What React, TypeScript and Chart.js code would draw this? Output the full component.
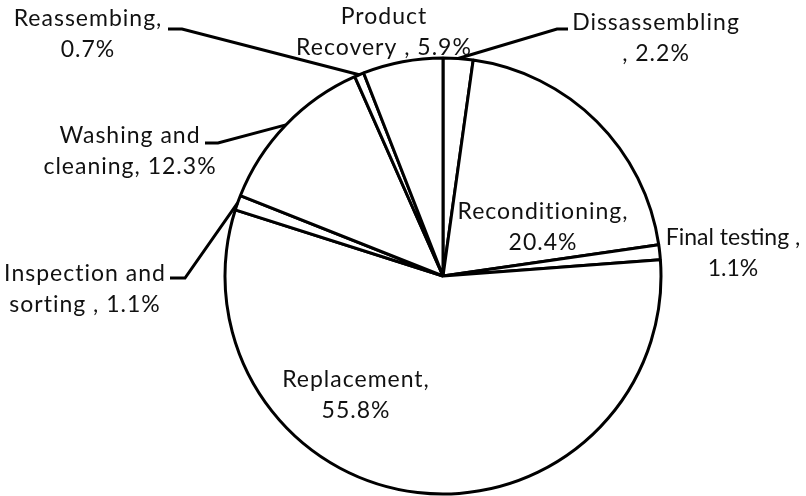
import React, { useEffect, useRef } from "react";
import { Chart, registerables } from "chart.js";

Chart.register(...registerables);

const categories = [
  "Dissassembling",
  "Reconditioning",
  "Final testing",
  "Replacement",
  "Inspection and sorting",
  "Washing and cleaning",
  "Reassembing",
  "Product Recovery",
];
const values = [2.2, 20.4, 1.1, 55.8, 1.1, 12.3, 0.7, 5.9];
// label text templates ({v} = value)
const labelLines = [
  ["Dissassembling", ", {v}%"],
  ["Reconditioning,", "{v}%"],
  ["Final testing ,", "{v}%"],
  ["Replacement,", "{v}%"],
  ["Inspection and", "sorting , {v}%"],
  ["Washing and", "cleaning, {v}%"],
  ["Reassembing,", "{v}%"],
  ["Product", "Recovery , {v}%"],
];

// label layout relative to pie centre: [dx of text centre, dy of first baseline]
const labelPos = [
  [213, -246],
  [100, -57],
  [290, -31],
  [-87, 111],
  [-358, 5],
  [-313, -133],
  [-355, -250],
  [-59, -252],
];
const labelSpacing = [1, 1, 0, 1, 1, 1, 1, 1];
// leader stub: [dx attach (near label), dy, stub length (signed)] or null
const leaders: (number[] | null)[] = [
  [125, -247, -11],
  null,
  null,
  null,
  [-273, 2, 15],
  [-238, -133, 13],
  [-275, -247, 14],
  null,
];

const FONT = "23px Lato";
const LINE_H = 31;

const labelPlugin = {
  id: "pieLabels",
  afterDatasetsDraw(chart: any) {
    const ctx = chart.ctx;
    const meta = chart.getDatasetMeta(0);
    ctx.save();
    meta.data.forEach((arc: any, i: number) => {
      const p = arc.getProps(["x", "y", "startAngle", "endAngle", "outerRadius"], true);
      const mid = (p.startAngle + p.endAngle) / 2;
      const ex = p.x + p.outerRadius * Math.cos(mid);
      const ey = p.y + p.outerRadius * Math.sin(mid);
      const L = leaders[i];
      if (L) {
        const ax = p.x + L[0];
        const ay = p.y + L[1];
        ctx.beginPath();
        ctx.moveTo(ax, ay);
        ctx.lineTo(ax + L[2], ay);
        ctx.lineTo(ex, ey);
        ctx.strokeStyle = "#000";
        ctx.lineWidth = 3;
        ctx.lineJoin = "miter";
        ctx.stroke();
      }
      const [dx, dy] = labelPos[i];
      ctx.font = FONT;
      (ctx as any).letterSpacing = labelSpacing[i] + "px";
      ctx.fillStyle = "#111";
      ctx.textAlign = "center";
      ctx.textBaseline = "alphabetic";
      labelLines[i].forEach((ln, k) => {
        const t = ln.replace("{v}", values[i].toFixed(1));
        ctx.fillText(t, p.x + dx, p.y + dy + k * LINE_H);
      });
    });
    ctx.restore();
  },
};

export default function App() {
  const ref = useRef<HTMLCanvasElement>(null);
  useEffect(() => {
    const chart = new Chart(ref.current!, {
      type: "pie",
      data: {
        labels: categories,
        datasets: [
          {
            data: values,
            backgroundColor: "#ffffff",
            borderColor: "#000000",
            borderWidth: 3,
            radius: 218,
          } as any,
        ],
      },
      options: {
        responsive: false,
        animation: false,
        devicePixelRatio: 1,
        layout: { padding: { left: 80, top: 56, right: 0, bottom: 0 } },
        plugins: { legend: { display: false }, tooltip: { enabled: false } },
      },
      plugins: [labelPlugin],
    });
    return () => chart.destroy();
  }, []);
  return (
    <div style={{ position: "fixed", left: 0, top: 0, width: 806, height: 496, background: "#fff" }}>
      <canvas ref={ref} width={806} height={496} />
    </div>
  );
}
